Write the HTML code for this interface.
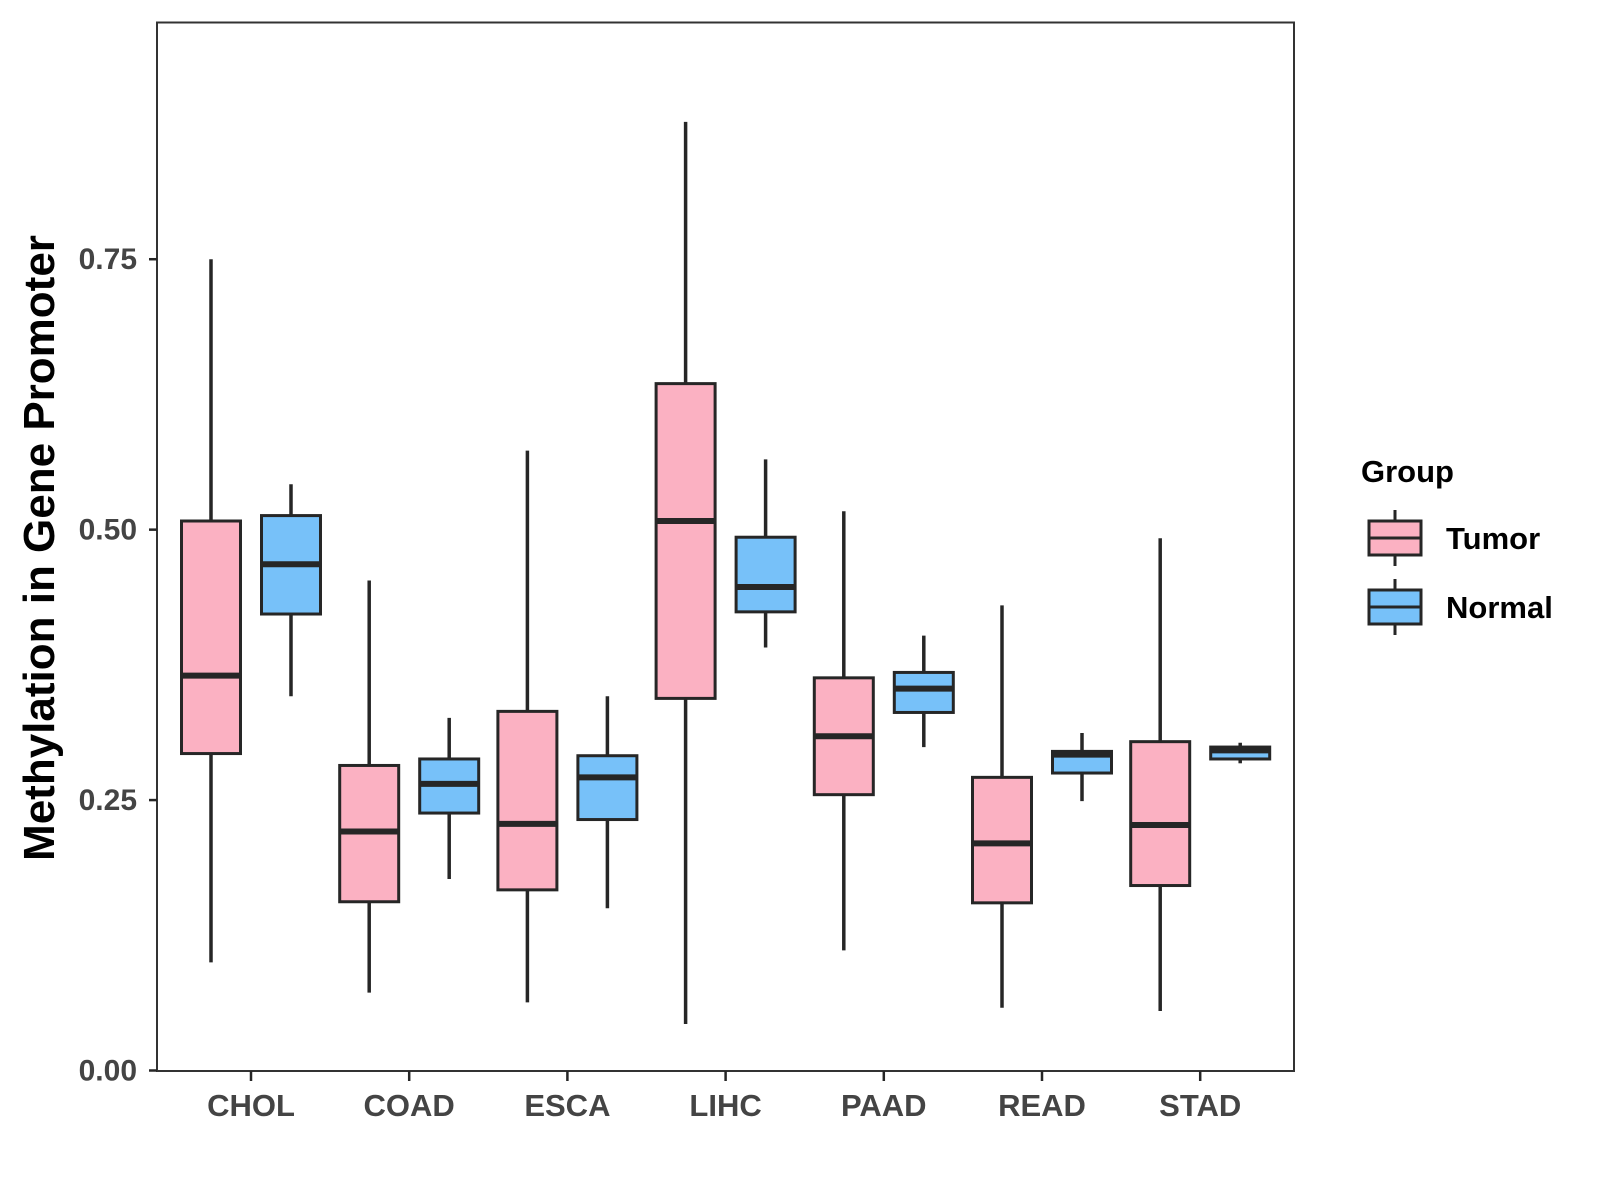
<!DOCTYPE html>
<html><head><meta charset="utf-8"><style>
body{margin:0;background:#fff;}
svg{display:block;font-family:"Liberation Sans",Arial,sans-serif;}
</style></head><body>
<svg id="chart" width="1600" height="1200" viewBox="0 0 1600 1200"></svg>
<script>
const categories=["CHOL","COAD","ESCA","LIHC","PAAD","READ","STAD"];
const tumorStats=[[0.10,0.293,0.365,0.508,0.75],[0.072,0.156,0.221,0.282,0.453],[0.063,0.167,0.228,0.332,0.573],[0.043,0.344,0.508,0.635,0.877],[0.111,0.255,0.309,0.363,0.517],[0.058,0.155,0.210,0.271,0.430],[0.055,0.171,0.227,0.304,0.492]];
const normalStats=[[0.346,0.422,0.468,0.513,0.542],[0.177,0.238,0.265,0.288,0.326],[0.150,0.232,0.271,0.291,0.346],[0.391,0.424,0.447,0.493,0.565],[0.299,0.331,0.353,0.368,0.402],[0.249,0.275,0.292,0.295,0.312],[0.284,0.288,0.296,0.299,0.303]];
const yTicks=[0,0.25,0.5,0.75];
const yTickLabels=["0.00","0.25","0.50","0.75"];
const groups=["Tumor","Normal"];
const groupColors=["#fbb1c2","#77c1f9"];

const NS="http://www.w3.org/2000/svg";
const svg=document.getElementById('chart');
const L=157,R=1294,T=22.5,B=1071;
const y=v=>1070.5-v*1081.7;
const x=i=>251+i*158.2;
function mk(tag,a,parent){const e=document.createElementNS(NS,tag);for(const k in a)e.setAttribute(k,a[k]);(parent||svg).appendChild(e);return e;}
const ink="#262626";
const frame=mk('rect',{x:L,y:T,width:R-L,height:B-T,fill:"none",stroke:"#333",'stroke-width':2});


yTicks.forEach((v,i)=>{
 const t=mk('line',{x1:L-8,x2:L,y1:y(v),y2:y(v),stroke:ink,'stroke-width':2.5});
 
 
 const tx=mk('text',{x:L-20,y:y(v)+10,'text-anchor':'end','font-size':30,'font-weight':'bold',fill:'#444'});
 tx.textContent=yTickLabels[i];
 
 
});
categories.forEach((c,i)=>{
 const t=mk('line',{x1:x(i),x2:x(i),y1:B,y2:B+10,stroke:ink,'stroke-width':2.5});
 
 
 const tx=mk('text',{x:x(i),y:B+45,'text-anchor':'middle','font-size':31,'font-weight':'bold',fill:'#444'});
 tx.textContent=c;
 
 
});
function box(cx,s,color,name){
 const g=mk('g',{});
 
 
 const w=59;
 mk('line',{x1:cx,x2:cx,y1:y(s[0]),y2:y(s[4]),stroke:ink,'stroke-width':3.5},g);
 mk('rect',{x:cx-w/2,y:y(s[3]),width:w,height:y(s[1])-y(s[3]),fill:color,stroke:ink,'stroke-width':3},g);
 mk('line',{x1:cx-w/2,x2:cx+w/2,y1:y(s[2]),y2:y(s[2]),stroke:ink,'stroke-width':6},g);
}
categories.forEach((c,i)=>{
 box(x(i)-40,tumorStats[i],groupColors[0],'box-tumor-'+c.toLowerCase());
 box(x(i)+40,normalStats[i],groupColors[1],'box-normal-'+c.toLowerCase());
});
const yt=mk('text',{x:0,y:0,transform:'translate(54,548) rotate(-90)','text-anchor':'middle','font-size':44,'font-weight':'bold',fill:'#000'});
yt.textContent="Methylation in Gene Promoter";


const lt=mk('text',{x:1361,y:482,'font-size':31,'font-weight':'bold',fill:'#000'});
lt.textContent="Group";


groups.forEach((gname,i)=>{
 const cy=538+i*69;
 const g=mk('g',{});
 
 
 mk('line',{x1:1395,x2:1395,y1:cy-28,y2:cy+28,stroke:ink,'stroke-width':3},g);
 mk('rect',{x:1369,y:cy-17,width:52,height:34,fill:groupColors[i],stroke:ink,'stroke-width':3},g);
 mk('line',{x1:1369,x2:1421,y1:cy,y2:cy,stroke:ink,'stroke-width':3},g);
 const t=mk('text',{x:1446,y:cy+11,'font-size':31,'font-weight':'bold',fill:'#000'},g);
 t.textContent=gname;
});
</script>
</body></html>
